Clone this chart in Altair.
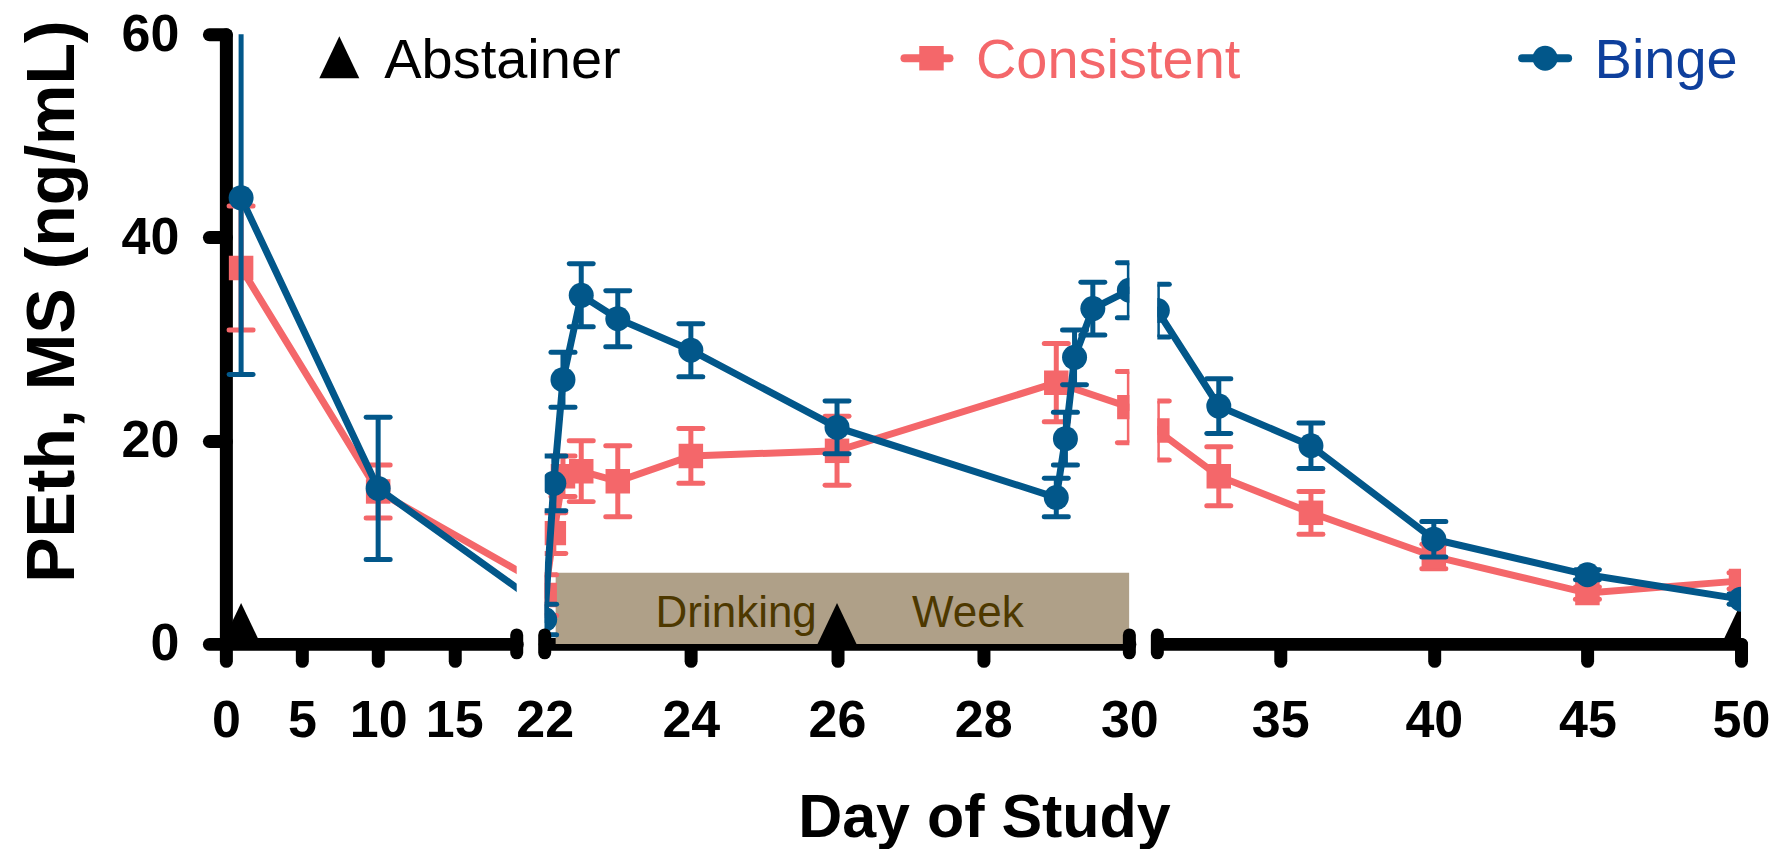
import altair as alt
import pandas as pd

# ---------------- data ----------------
# Consistent drinkers (mean, +/- error)
days_c = [1, 10, 22, 22.125, 22.25, 22.5, 23, 24, 26, 29, 30, 31, 33, 36, 40, 45, 50]
mean_c = [37.0, 15.0, 4.8, 10.9, 16.5, 17.0, 16.0, 18.5, 19.0, 25.7, 23.3, 21.0, 16.5, 12.9, 8.6, 5.0, 6.2]
err_c = [6.1, 2.6, 2.0, 2.0, 2.0, 3.0, 3.5, 2.7, 3.4, 3.85, 3.5, 2.9, 2.9, 2.1, 1.2, 0.6, 0.8]

# Binge drinkers
days_b = [1, 10, 22, 22.125, 22.25, 22.5, 23, 24, 26, 29, 29.125, 29.25, 29.5, 30, 31, 33, 36, 40, 45, 50]
mean_b = [43.9, 15.3, 2.4, 15.8, 26.0, 34.3, 32.0, 28.9, 21.3, 14.4, 20.2, 28.2, 33.0, 34.8, 32.8, 23.4, 19.5, 10.3, 6.8, 4.4]
err_b = [17.4, 7.0, 1.5, 2.7, 2.7, 3.1, 2.75, 2.6, 2.6, 1.9, 2.6, 2.7, 2.6, 2.7, 2.6, 2.7, 2.25, 1.75, 0.5, 0.5]

# Abstainers
days_a = [1, 26, 50]
mean_a = [0, 0, 0]

# broken x axis segments
seg_domains = [[0, 19.1], [22, 30], [31, 50]]
seg_ticks = [[0, 5, 10, 15], [22, 24, 26, 28, 30], [35, 40, 45, 50]]
break_days = [[19.1], [22, 30], [31]]

# drinking week band
drink_start = [22.15]
drink_end = [30]
drink_top = [7]
drink_labels = ["Drinking", "Week"]
drink_label_days = [24.62, 27.79]
drink_label_y = [1.7, 1.7]

legend_labels = ["Abstainer", "Consistent", "Binge"]

# ---------------- styling ----------------
FONT = "Liberation Sans"
RED = "#F4676A"
BLUE = "#02578A"
BINGE_TXT = "#0E3F9C"
TAN = "#AFA088"
BROWN = "#4D3800"
TRI = "M-1,0L1,0L0,-2.1Z"
H = 610
W = [291, 585, 584]


def series(days, means, errs):
    return pd.DataFrame({
        "day": days,
        "mean": means,
        "lo": [m - e for m, e in zip(means, errs)],
        "hi": [m + e for m, e in zip(means, errs)],
    })


df_c = series(days_c, mean_c, err_c)
df_b = series(days_b, mean_b, err_b)
df_a = pd.DataFrame({"day": days_a, "mean": mean_a})

common = dict(
    domainColor="black", domainWidth=13, domainCap="round",
    tickColor="black", tickWidth=13, tickSize=17, tickCap="round",
    labelFont=FONT, labelFontSize=52, labelFontWeight="bold", labelColor="black",
    labelFlush=False, labelOverlap=False, grid=False,
    titleFont=FONT, titleFontWeight="bold", titleColor="black",
)

xaxes = [
    alt.Axis(values=seg_ticks[0], title=None, labelPadding=35, **common),
    alt.Axis(values=seg_ticks[1], title="Day of Study", titleFontSize=61,
             titleX=439.5, titleY=193, titleBaseline="alphabetic", titleAlign="center",
             tickOpacity={"condition": {"test": "datum.value == 22 || datum.value == 30", "value": 0}, "value": 1},
             labelPadding=35, **common),
    alt.Axis(values=seg_ticks[2], title=None, labelPadding=35, **common),
]
yaxis = alt.Axis(values=[0, 20, 40, 60], title="PEth, MS (ng/mL)", titleFontSize=68,
                 titleAngle=270, titleX=-152.5, titleY=267, titleBaseline="alphabetic",
                 titleAlign="center", labelPadding=30, **common)


def X(i, field="day"):
    return alt.X(f"{field}:Q", scale=alt.Scale(domain=seg_domains[i], nice=False, zero=False), axis=xaxes[i])


def Y(i, field):
    return alt.Y(f"{field}:Q", scale=alt.Scale(domain=[0, 60], nice=False, zero=False),
                 axis=yaxis if i == 0 else None)


def series_layers(i, df, color, shape, size):
    line = alt.Chart(df).mark_line(color=color, strokeWidth=7, clip=True).encode(x=X(i), y=Y(i, "mean"))
    stem = alt.Chart(df).mark_rule(color=color, strokeWidth=5, clip=True).encode(
        x=X(i), y=Y(i, "lo"), y2="hi:Q")
    caps = [alt.Chart(df).mark_rule(color=color, strokeWidth=5, strokeCap="round", xOffset=-12,
                                    x2Offset=12, clip=True).encode(x=X(i), x2="day:Q", y=Y(i, f))
            for f in ["lo", "hi"]]
    pts = alt.Chart(df).mark_point(shape=shape, filled=True, size=size, color=color, opacity=1,
                                   clip=True).encode(x=X(i), y=Y(i, "mean"))
    return [line, stem] + caps + [pts]


def panel(i):
    layers = []
    if i == 1:
        band = pd.DataFrame({"day": drink_start, "end": drink_end, "y0": [0], "y1": drink_top})
        layers.append(alt.Chart(band).mark_rect(color=TAN, clip=True).encode(
            x=X(i), x2="end:Q", y=Y(i, "y0"), y2="y1:Q"))
        lab = pd.DataFrame({"day": drink_label_days, "ly": drink_label_y, "label": drink_labels})
        layers.append(alt.Chart(lab).mark_text(font=FONT, fontSize=44, color=BROWN, align="center",
                                               baseline="alphabetic").encode(
            x=X(i), y=Y(i, "ly"), text="label:N"))
    layers.append(alt.Chart(df_a).mark_point(shape=TRI, filled=True, size=1521, color="black",
                                             opacity=1, clip=True).encode(x=X(i), y=Y(i, "mean")))
    layers += series_layers(i, df_c, RED, "square", 600)
    layers += series_layers(i, df_b, BLUE, "circle", 625)
    brk = pd.DataFrame({"day": break_days[i]})
    layers.append(alt.Chart(brk).mark_rule(color="black", strokeWidth=13, strokeCap="round").encode(
        x=X(i), y=alt.value(H - 9), y2=alt.value(H + 9)))

    leg = pd.DataFrame({"label": [legend_labels[i]]})
    if i == 0:
        layers.append(alt.Chart(leg).mark_point(shape=TRI, filled=True, size=1600, color="black",
                                                opacity=1).encode(x=alt.value(113.5), y=alt.value(44)))
        layers.append(alt.Chart(leg).mark_text(font=FONT, fontSize=56, color="black", align="left",
                                               baseline="alphabetic").encode(
            x=alt.value(158.5), y=alt.value(44), text="label:N"))
    elif i == 1:
        layers.append(alt.Chart(leg).mark_rule(color=RED, strokeWidth=8, strokeCap="round").encode(
            x=alt.value(360), x2=alt.value(405), y=alt.value(24)))
        layers.append(alt.Chart(leg).mark_point(shape="square", filled=True, size=600, color=RED,
                                                opacity=1).encode(x=alt.value(387), y=alt.value(24)))
        layers.append(alt.Chart(leg).mark_text(font=FONT, fontSize=56, color=RED, align="left",
                                               baseline="alphabetic").encode(
            x=alt.value(431.5), y=alt.value(44), text="label:N"))
    else:
        layers.append(alt.Chart(leg).mark_rule(color=BLUE, strokeWidth=8, strokeCap="round").encode(
            x=alt.value(365), x2=alt.value(411), y=alt.value(24)))
        layers.append(alt.Chart(leg).mark_point(shape="circle", filled=True, size=625, color=BLUE,
                                                opacity=1).encode(x=alt.value(388), y=alt.value(24)))
        layers.append(alt.Chart(leg).mark_text(font=FONT, fontSize=56, color=BINGE_TXT, align="left",
                                               baseline="alphabetic").encode(
            x=alt.value(437.5), y=alt.value(44), text="label:N"))
    return alt.layer(*layers).properties(width=W[i], height=H)


chart = alt.hconcat(panel(0), panel(1), panel(2), spacing=28, bounds="flush").configure(
    padding={"left": 11, "top": 0, "right": 0, "bottom": 0}
).configure_view(stroke=None)

chart.save("out.html", embed_options={"renderer": "svg", "actions": False})
